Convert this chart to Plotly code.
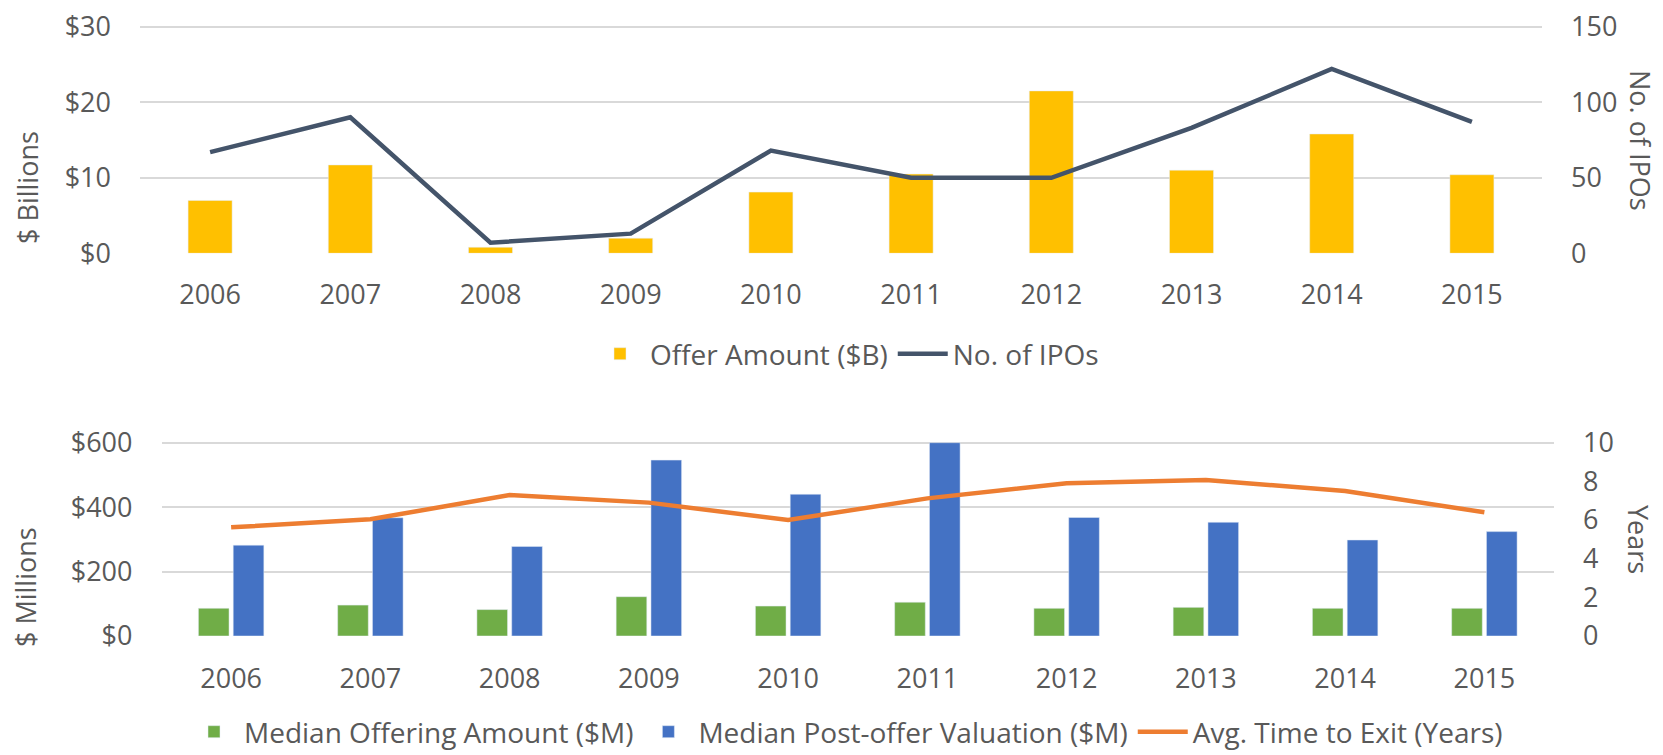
import plotly.graph_objects as go

years = ["2006", "2007", "2008", "2009", "2010", "2011", "2012", "2013", "2014", "2015"]
offer_amount_b = [7.0, 11.7, 0.8, 2.0, 8.1, 10.5, 21.5, 11.0, 15.8, 10.4]
num_ipos = [67, 90, 7, 13, 68, 50, 50, 83, 122, 87]
median_offering_m = [86, 96, 82, 122, 93, 105, 86, 89, 86, 86]
median_valuation_m = [282, 367, 278, 546, 440, 600, 368, 353, 298, 324]
avg_time_exit = [5.62, 6.04, 7.29, 6.9, 6.0, 7.12, 7.9, 8.07, 7.5, 6.4]

top_left_ticks = [0, 10, 20, 30]
top_left_labels = ["$0", "$10", "$20", "$30"]
top_right_ticks = [0, 50, 100, 150]
bot_left_ticks = [0, 200, 400, 600]
bot_left_labels = ["$0", "$200", "$400", "$600"]
bot_right_ticks = [0, 2, 4, 6, 8, 10]

FONT = "Open Sans"
FS = 27
GRAY = "#595959"
GRID = "#D9D9D9"
# the page body has an 8px default margin; the figure is sized to fill the rest
OFF = 8
W, H = 1663 - OFF, 755 - OFF
EXT = 1.01  # small headroom so the top gridline is drawn


def px_x(p):
    return (p - OFF) / W


def px_y(p):
    return 1 - (p - OFF) / H


fig = go.Figure()

fig.add_trace(go.Bar(x=years, y=offer_amount_b, name="Offer Amount ($B)",
                     marker_color="#FFC000", width=0.314,
                     xaxis="x", yaxis="y", legend="legend"))
fig.add_trace(go.Scatter(x=years, y=num_ipos, name="No. of IPOs", mode="lines",
                         line=dict(color="#44546A", width=4.5),
                         xaxis="x", yaxis="y2", legend="legend"))

fig.add_trace(go.Bar(x=years, y=median_offering_m, name="Median Offering Amount ($M)",
                     marker_color="#70AD47", xaxis="x2", yaxis="y3", legend="legend2"))
fig.add_trace(go.Bar(x=years, y=median_valuation_m, name="Median Post-offer Valuation ($M)",
                     marker_color="#4472C4", xaxis="x2", yaxis="y3", legend="legend2"))
fig.add_trace(go.Scatter(x=years, y=avg_time_exit, name="Avg. Time to Exit (Years)", mode="lines",
                         line=dict(color="#ED7D31", width=4.5),
                         xaxis="x2", yaxis="y4", legend="legend2"))

tickfont = dict(family=FONT, size=FS, color=GRAY)

top_h = 253.3 - 26.7
bot_h = 636.0 - 442.7
xdom_top = [px_x(140), px_x(1542)]
xdom_bot = [px_x(161.5), px_x(1554)]
ydom_top = [px_y(253.3), px_y(253.3 - top_h * EXT)]
ydom_bot = [px_y(636), px_y(636 - bot_h * EXT)]

common_y = dict(zeroline=False, showline=False, automargin=False, ticklabelstandoff=28,
                tickfont=tickfont, ticklabeloverflow="allow")

fig.update_layout(
    width=W, height=H,
    margin=dict(l=0, r=0, t=0, b=0, autoexpand=False),
    paper_bgcolor="white", plot_bgcolor="white",
    barmode="group", bargap=0.5, bargroupgap=0.12,
    hovermode=False,
    font=dict(family=FONT, color=GRAY),
    xaxis=dict(domain=xdom_top, anchor="y", type="category", tickfont=tickfont,
               showgrid=False, showline=False, ticks="", ticklabelstandoff=23,
               automargin=False),
    yaxis=dict(domain=ydom_top, anchor="x", range=[0, 30 * EXT], tickvals=top_left_ticks,
               ticktext=top_left_labels, showgrid=True, gridcolor=GRID, gridwidth=1.5,
               **common_y),
    yaxis2=dict(domain=ydom_top, anchor="x", overlaying="y", side="right",
                range=[0, 150 * EXT], tickvals=top_right_ticks, showgrid=False, **common_y),
    xaxis2=dict(domain=xdom_bot, anchor="y3", type="category", tickfont=tickfont,
                showgrid=False, showline=False, ticks="", ticklabelstandoff=24,
                automargin=False),
    yaxis3=dict(domain=ydom_bot, anchor="x2", range=[0, 600 * EXT], tickvals=bot_left_ticks,
                ticktext=bot_left_labels, showgrid=True, gridcolor=GRID, gridwidth=1.5,
                **common_y),
    yaxis4=dict(domain=ydom_bot, anchor="x2", overlaying="y3", side="right",
                range=[0, 10 * EXT], tickvals=bot_right_ticks, showgrid=False, **common_y),
    legend=dict(orientation="h", x=px_x(847), y=px_y(354), xanchor="center", yanchor="middle",
                font=dict(family=FONT, size=28, color=GRAY), bgcolor="rgba(0,0,0,0)",
                itemwidth=50),
    legend2=dict(orientation="h", x=px_x(846), y=px_y(732), xanchor="center", yanchor="middle",
                 font=dict(family=FONT, size=28, color=GRAY), bgcolor="rgba(0,0,0,0)",
                 itemwidth=50),
)

annot_font = dict(family=FONT, size=FS, color=GRAY)
for txt, ax_px, ay_px, ang in [("$ Billions", 27, 188, -90),
                               ("No. of IPOs", 1640, 140, 90),
                               ("$ Millions", 25, 587, -90),
                               ("Years", 1639, 539, 90)]:
    fig.add_annotation(text=txt, x=px_x(ax_px), y=px_y(ay_px), xref="paper", yref="paper",
                       xanchor="center", yanchor="middle", textangle=ang,
                       showarrow=False, font=annot_font)

fig.write_html("out.html")
